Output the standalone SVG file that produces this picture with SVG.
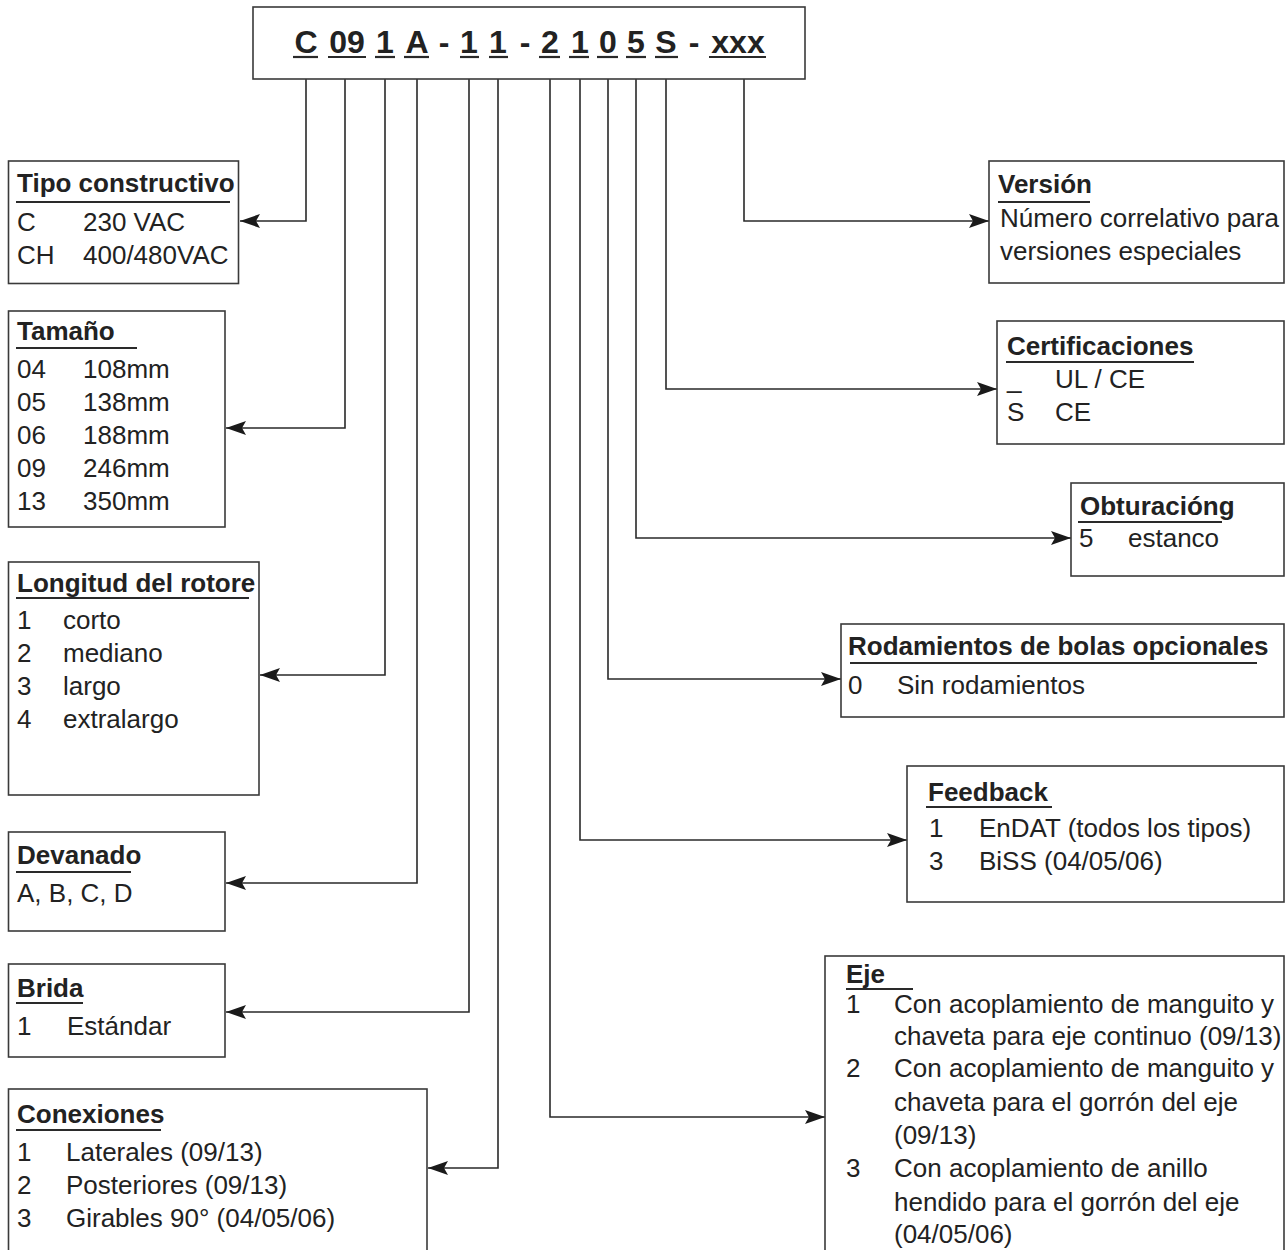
<svg xmlns="http://www.w3.org/2000/svg" width="1286" height="1250" viewBox="0 0 1286 1250">
<style>
text{font-family:"Liberation Sans",Arial,Helvetica,sans-serif;fill:#222;}
.t{font-size:26px;font-weight:bold;}
.i{font-size:26px;}
.code{font-size:32px;font-weight:bold;text-anchor:middle;}
.box{fill:#fff;stroke:#3a3a3a;stroke-width:1.6;}
.ul{stroke:#2a2a2a;stroke-width:2;}
.cu{stroke:#2a2a2a;stroke-width:2.2;}
.con{fill:none;stroke:#2a2a2a;stroke-width:1.6;marker-end:url(#ah);}
</style>
<defs>
<marker id="ah" markerUnits="userSpaceOnUse" markerWidth="21" markerHeight="16" refX="20" refY="8" orient="auto">
<path d="M0,1 L20,8 L0,15 L4,8 z" fill="#1a1a1a"/>
</marker>
</defs>
<rect width="1286" height="1250" fill="#fff"/>

<g id="connectors">
<path class="con" d="M306,79 V221 H240"/>
<path class="con" d="M345,79 V428 H226"/>
<path class="con" d="M385,79 V675 H260"/>
<path class="con" d="M417,79 V883 H226"/>
<path class="con" d="M469,79 V1012 H226"/>
<path class="con" d="M498,79 V1168 H428"/>
<path class="con" d="M550,79 V1117 H825"/>
<path class="con" d="M580,79 V840 H907"/>
<path class="con" d="M608,79 V679 H841"/>
<path class="con" d="M636,79 V538 H1071"/>
<path class="con" d="M666,79 V389 H997"/>
<path class="con" d="M744,79 V221 H989"/>
</g>

<g id="code">
<rect class="box" x="253" y="7" width="552" height="72"/>
<text class="code" x="306" y="53">C</text><line class="cu" x1="293" y1="57" x2="318" y2="57"/>
<text class="code" x="347" y="53">09</text><line class="cu" x1="328" y1="57" x2="366" y2="57"/>
<text class="code" x="385" y="53">1</text><line class="cu" x1="375" y1="57" x2="395" y2="57"/>
<text class="code" x="417" y="53">A</text><line class="cu" x1="404" y1="57" x2="429" y2="57"/>
<text class="code" x="444" y="53">-</text>
<text class="code" x="469" y="53">1</text><line class="cu" x1="460" y1="57" x2="479" y2="57"/>
<text class="code" x="498" y="53">1</text><line class="cu" x1="489" y1="57" x2="508" y2="57"/>
<text class="code" x="525" y="53">-</text>
<text class="code" x="550" y="53">2</text><line class="cu" x1="539" y1="57" x2="560" y2="57"/>
<text class="code" x="580" y="53">1</text><line class="cu" x1="569" y1="57" x2="589" y2="57"/>
<text class="code" x="608" y="53">0</text><line class="cu" x1="597" y1="57" x2="618" y2="57"/>
<text class="code" x="636" y="53">5</text><line class="cu" x1="626" y1="57" x2="646" y2="57"/>
<text class="code" x="666" y="53">S</text><line class="cu" x1="655" y1="57" x2="678" y2="57"/>
<text class="code" x="694" y="53">-</text>
<text class="code" x="738" y="53">xxx</text><line class="cu" x1="709" y1="57" x2="766" y2="57"/>
</g>

<g id="tipo">
<rect class="box" x="8.5" y="161" width="230" height="122.5"/>
<text class="t" x="17" y="192">Tipo constructivo</text>
<line class="ul" x1="16" y1="202" x2="230" y2="202"/>
<text class="i" x="17" y="231">C</text><text class="i" x="83" y="231">230 VAC</text>
<text class="i" x="17" y="264">CH</text><text class="i" x="83" y="264">400/480VAC</text>
</g>

<g id="tamano">
<rect class="box" x="8.5" y="311" width="216.5" height="216"/>
<text class="t" x="17" y="340">Tamaño</text>
<line class="ul" x1="16" y1="348" x2="137" y2="348"/>
<text class="i" x="17" y="378">04</text><text class="i" x="83" y="378">108mm</text>
<text class="i" x="17" y="411">05</text><text class="i" x="83" y="411">138mm</text>
<text class="i" x="17" y="444">06</text><text class="i" x="83" y="444">188mm</text>
<text class="i" x="17" y="477">09</text><text class="i" x="83" y="477">246mm</text>
<text class="i" x="17" y="510">13</text><text class="i" x="83" y="510">350mm</text>
</g>

<g id="longitud">
<rect class="box" x="8.5" y="562" width="250.5" height="233"/>
<text class="t" x="17" y="592">Longitud del rotore</text>
<line class="ul" x1="16" y1="598" x2="249" y2="598"/>
<text class="i" x="17" y="629">1</text><text class="i" x="63" y="629">corto</text>
<text class="i" x="17" y="662">2</text><text class="i" x="63" y="662">mediano</text>
<text class="i" x="17" y="695">3</text><text class="i" x="63" y="695">largo</text>
<text class="i" x="17" y="728">4</text><text class="i" x="63" y="728">extralargo</text>
</g>

<g id="devanado">
<rect class="box" x="8.5" y="832" width="216.5" height="99"/>
<text class="t" x="17" y="864">Devanado</text>
<line class="ul" x1="16" y1="872" x2="131" y2="872"/>
<text class="i" x="17" y="902">A, B, C, D</text>
</g>

<g id="brida">
<rect class="box" x="8.5" y="964" width="216.5" height="93"/>
<text class="t" x="17" y="997">Brida</text>
<line class="ul" x1="16" y1="1003" x2="83" y2="1003"/>
<text class="i" x="17" y="1035">1</text><text class="i" x="67" y="1035">Estándar</text>
</g>

<g id="conexiones">
<rect class="box" x="8.5" y="1089" width="418.5" height="175"/>
<text class="t" x="17" y="1123">Conexiones</text>
<line class="ul" x1="16" y1="1130" x2="161" y2="1130"/>
<text class="i" x="17" y="1161">1</text><text class="i" x="66" y="1161">Laterales (09/13)</text>
<text class="i" x="17" y="1194">2</text><text class="i" x="66" y="1194">Posteriores (09/13)</text>
<text class="i" x="17" y="1227">3</text><text class="i" x="66" y="1227">Girables 90° (04/05/06)</text>
</g>

<g id="version">
<rect class="box" x="989" y="161" width="295" height="122"/>
<text class="t" x="998" y="193">Versión</text>
<line class="ul" x1="998" y1="202" x2="1090" y2="202"/>
<text class="i" x="1000" y="227">Número correlativo para</text>
<text class="i" x="1000" y="260">versiones especiales</text>
</g>

<g id="certificaciones">
<rect class="box" x="997" y="321" width="287" height="123"/>
<text class="t" x="1007" y="355">Certificaciones</text>
<line class="ul" x1="1006" y1="362" x2="1194" y2="362"/>
<text class="i" x="1007" y="388">_</text><text class="i" x="1055" y="388">UL / CE</text>
<text class="i" x="1007" y="421">S</text><text class="i" x="1055" y="421">CE</text>
</g>

<g id="obturacion">
<rect class="box" x="1071" y="483" width="213" height="93"/>
<text class="t" x="1080" y="515">Obturacióng</text>
<line class="ul" x1="1078" y1="522" x2="1222" y2="522"/>
<text class="i" x="1079" y="547">5</text><text class="i" x="1128" y="547">estanco</text>
</g>

<g id="rodamientos">
<rect class="box" x="841" y="624" width="443" height="93"/>
<text class="t" x="848" y="655">Rodamientos de bolas opcionales</text>
<line class="ul" x1="850" y1="663" x2="1257" y2="663"/>
<text class="i" x="848" y="694">0</text><text class="i" x="897" y="694">Sin rodamientos</text>
</g>

<g id="feedback">
<rect class="box" x="907" y="766" width="377" height="136"/>
<text class="t" x="928" y="801">Feedback</text>
<line class="ul" x1="926" y1="807" x2="1052" y2="807"/>
<text class="i" x="929" y="837">1</text><text class="i" x="979" y="837">EnDAT (todos los tipos)</text>
<text class="i" x="929" y="870">3</text><text class="i" x="979" y="870">BiSS (04/05/06)</text>
</g>

<g id="eje">
<rect class="box" x="825" y="956" width="459" height="310"/>
<text class="t" x="846" y="983">Eje</text>
<line class="ul" x1="846" y1="989" x2="913" y2="989"/>
<text class="i" x="846" y="1013">1</text><text class="i" x="894" y="1013">Con acoplamiento de manguito y</text>
<text class="i" x="894" y="1045">chaveta para eje continuo (09/13)</text>
<text class="i" x="846" y="1077">2</text><text class="i" x="894" y="1077">Con acoplamiento de manguito y</text>
<text class="i" x="894" y="1111">chaveta para el gorrón del eje</text>
<text class="i" x="894" y="1144">(09/13)</text>
<text class="i" x="846" y="1177">3</text><text class="i" x="894" y="1177">Con acoplamiento de anillo</text>
<text class="i" x="894" y="1211">hendido para el gorrón del eje</text>
<text class="i" x="894" y="1243">(04/05/06)</text>
</g>
</svg>
